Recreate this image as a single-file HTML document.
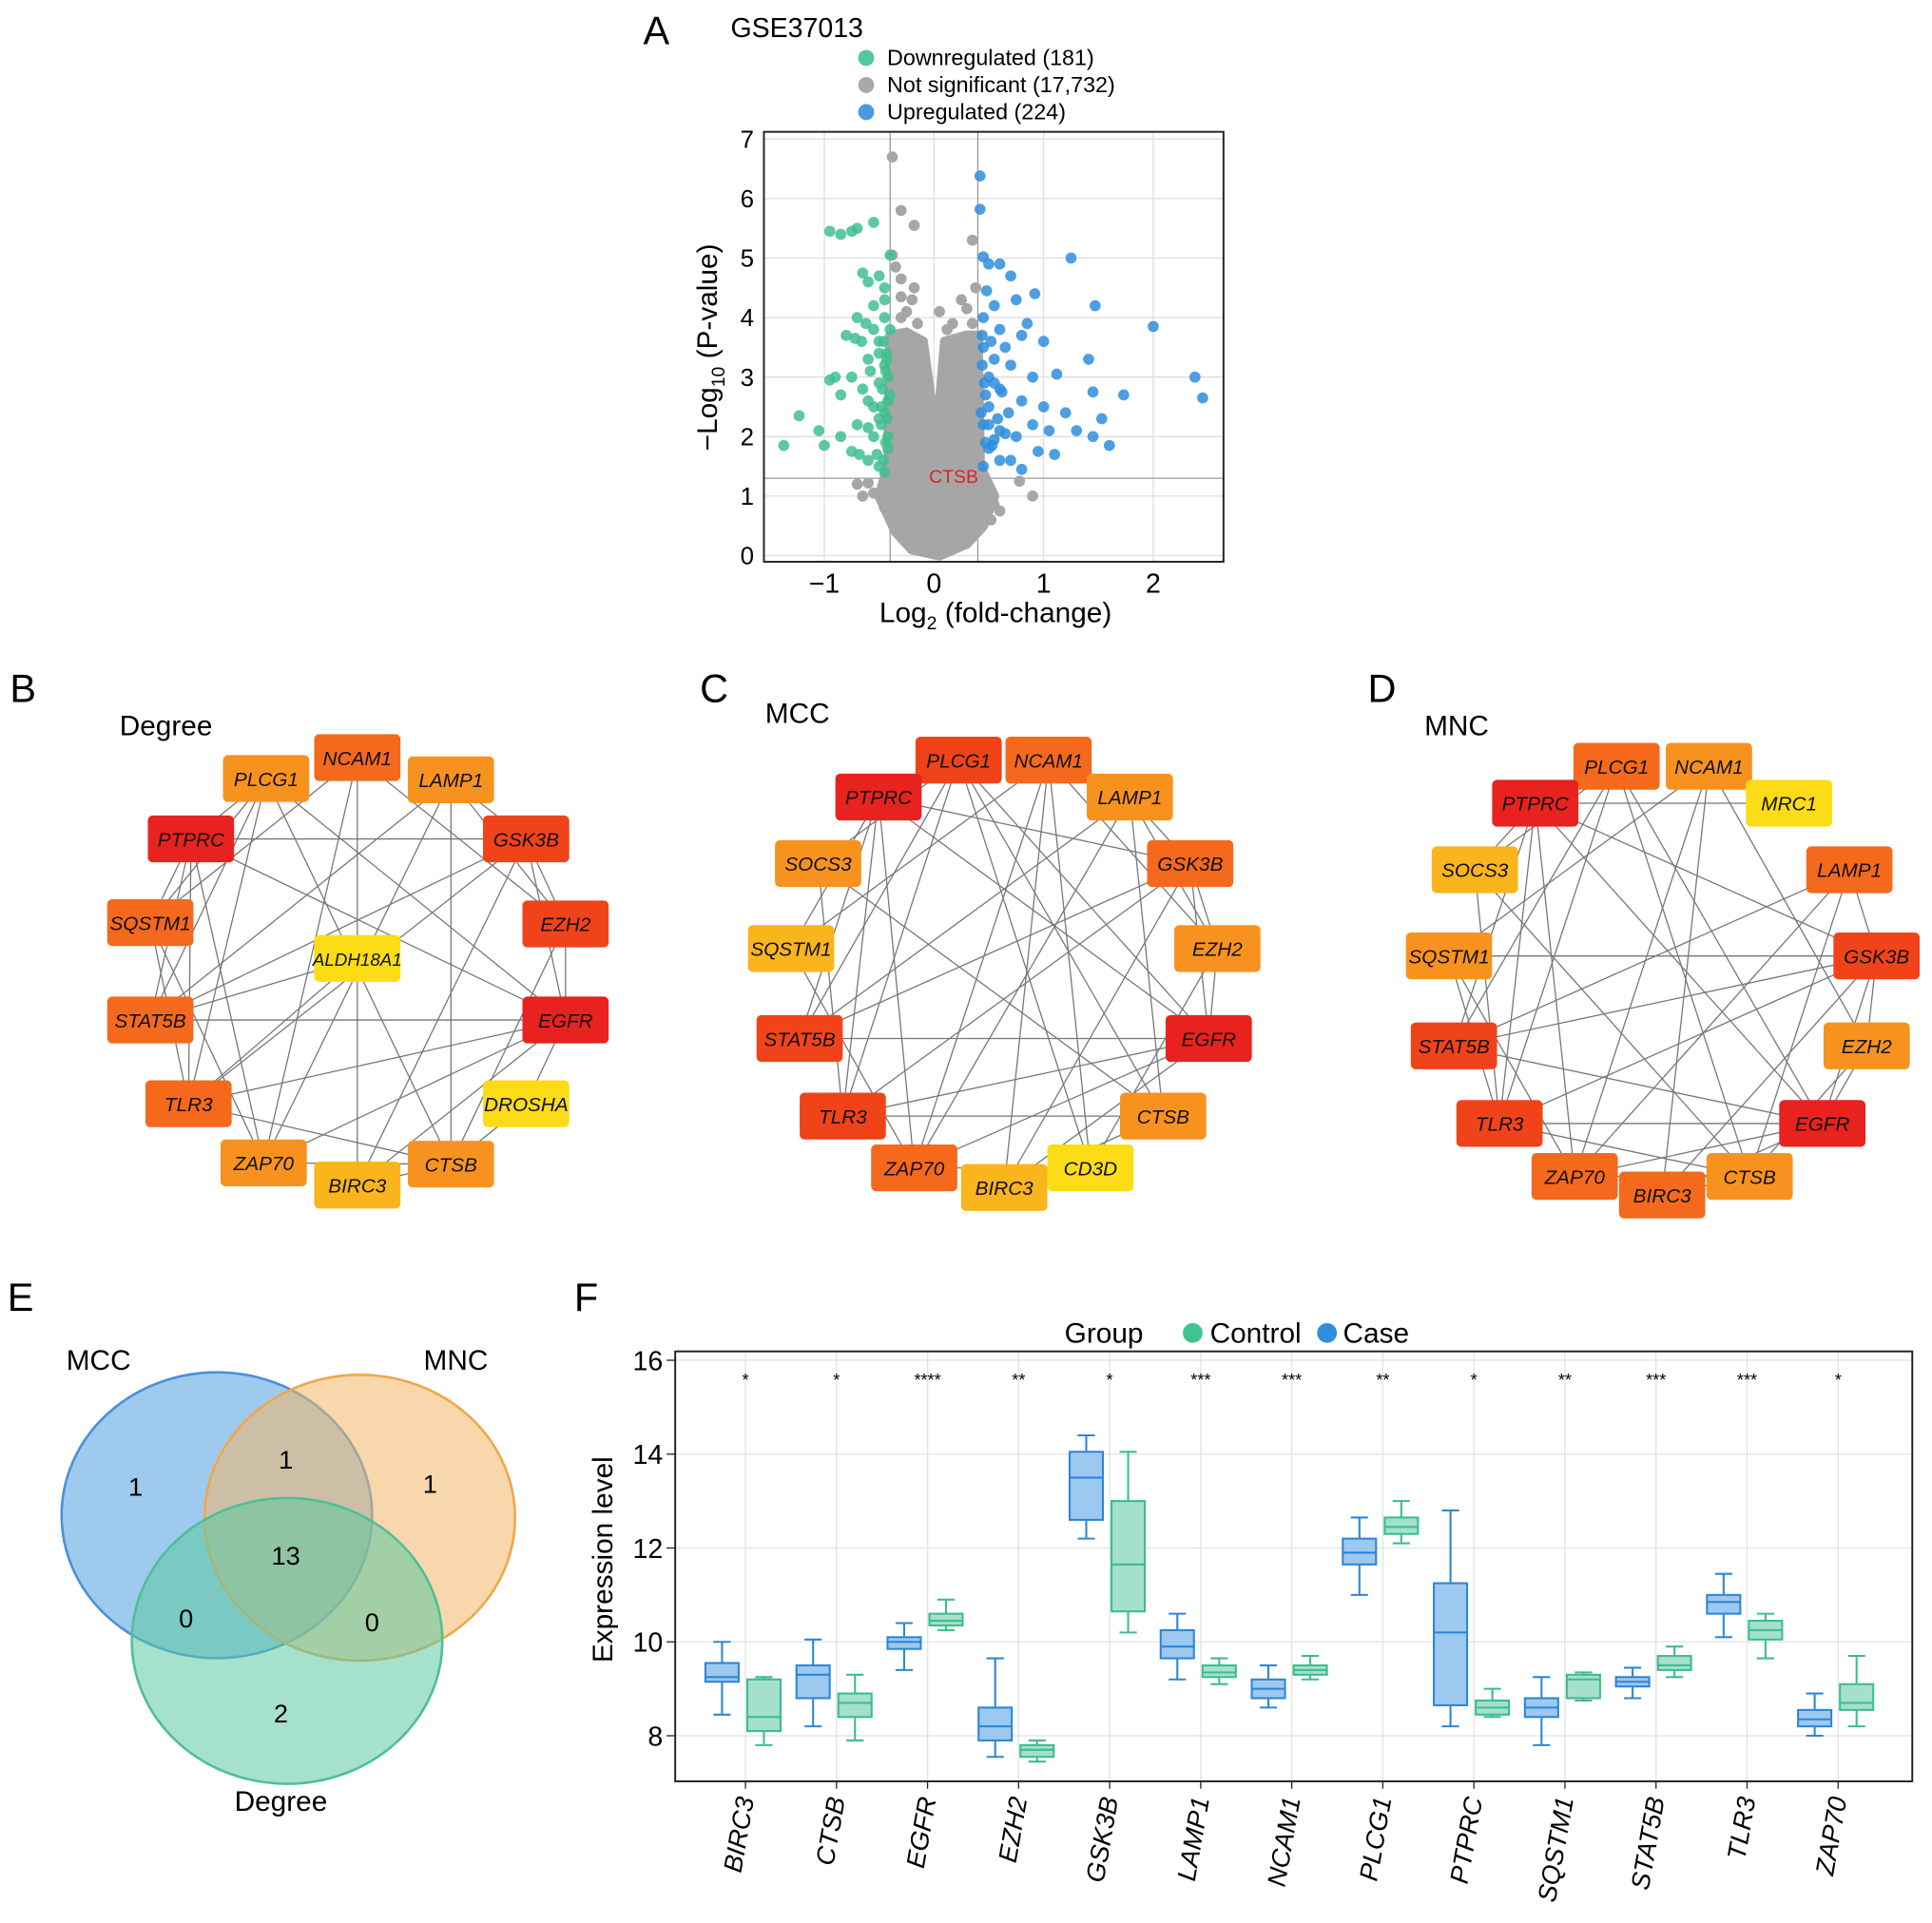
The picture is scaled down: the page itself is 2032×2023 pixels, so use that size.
<!DOCTYPE html>
<html><head><meta charset="utf-8"><style>
html,body{margin:0;padding:0;background:#fff}
svg{display:block;font-family:"Liberation Sans",Arial,sans-serif}
</style></head><body>
<svg id="fig" width="2032" height="2023" viewBox="0 0 1568 1561" preserveAspectRatio="none" xmlns="http://www.w3.org/2000/svg">
<g id="pa"></g>
<g id="pb"></g>
<g id="pc"></g>
<g id="pd"></g>
<g id="pe"></g>
<g id="pf"></g>
</svg>
<script>
// ---------- Volcano data ----------
const downX=[-0.95,-0.85,-0.75,-0.7,-0.55,-0.65,-0.6,-0.5,-0.45,-0.4,-0.55,-0.45,-0.7,-0.8,-0.5,-0.4,-0.6,-0.45,-0.75,-0.9,-0.5,-0.4,-0.6,-0.45,-0.7,-0.85,-1.0,-1.37,-1.23,-0.95,-0.55,-0.42,-0.6,-0.5,-0.45,-0.75,-0.65,-0.5,-0.42,-0.48,-0.42,-0.55,-0.45,-0.62,-0.85,-1.05,-0.42,-0.48,-0.44,-0.52,-0.43,-0.46,-0.43,-0.47,-0.44,-0.5,-0.55,-0.43,-0.46,-0.58,-0.66,-0.72,-0.6,-0.68];
const downY=[5.45,5.4,5.45,5.5,5.6,4.75,4.6,4.7,4.5,5.05,4.2,4.0,4.0,3.7,3.6,3.8,3.3,3.2,3.0,3.0,2.9,2.7,2.6,2.4,2.2,2.0,1.85,1.85,2.35,2.95,2.0,1.8,1.6,1.5,1.4,1.75,2.8,3.4,3.0,2.2,2.0,3.8,4.3,3.9,2.7,2.1,2.6,2.5,3.1,1.7,3.4,3.6,2.3,2.8,1.9,2.3,2.5,3.3,1.6,3.1,3.6,3.65,2.15,1.7];
const upX=[0.42,0.42,0.45,0.5,0.6,0.7,0.75,0.92,1.25,1.47,2.0,0.85,0.55,0.45,0.6,0.8,1.0,0.45,0.55,0.7,0.9,1.12,1.41,1.45,1.73,2.38,2.45,0.5,0.6,0.8,1.0,1.2,1.53,1.45,1.6,1.3,0.5,0.45,0.6,0.75,0.9,1.05,0.5,0.6,0.7,0.45,0.55,0.65,0.48,0.95,1.1,0.8,0.58,0.47,0.52,0.65,0.44,0.46,0.43,0.5,0.47,0.55,0.44,0.62,0.68,0.53];
const upY=[6.38,5.82,5.02,4.9,4.9,4.7,4.3,4.4,5.0,4.2,3.85,3.9,4.2,4.0,3.8,3.7,3.6,3.5,3.3,3.2,3.0,3.05,3.3,2.75,2.7,3.0,2.65,3.0,2.8,2.6,2.5,2.4,2.3,2.0,1.85,2.1,2.5,2.2,2.1,2.0,2.2,2.1,1.8,1.6,1.6,1.5,2.9,3.5,4.45,1.75,1.7,1.45,2.3,2.7,3.6,2.05,3.2,2.9,2.4,2.2,1.9,1.95,3.7,2.75,2.4,1.85];
const grayX=[-0.38,-0.3,-0.18,-0.38,0.35,0.38,-0.35,-0.3,-0.2,0.25,0.3,-0.3,0.05,-0.7,-0.65,-0.6,-0.45,0.55,0.6,0.78,0.9,-0.55,0.52,-0.25,0.17,-0.15,0.12,0.45,0.5,-0.3,0.35,-0.18];
const grayY=[6.7,5.8,5.55,5.05,5.3,4.5,4.85,4.65,4.3,4.3,4.15,4.35,4.1,1.2,1.0,1.22,0.8,0.85,0.75,1.25,1.0,1.05,0.6,4.1,3.9,3.9,3.8,1.3,1.1,4.0,3.9,4.5];
const coreX=[-0.4,-0.25,-0.1,-0.02,0.02,0.05,0.1,0.3,0.4,0.42,0.55,0.45,0.3,0.05,-0.2,-0.35,-0.5,-0.42];
const coreY=[3.7,3.75,3.6,2.5,1.9,2.5,3.6,3.7,3.7,1.5,1.0,0.5,0.2,0,0.1,0.4,1.0,1.5];
const volXTicks=[-1,0,1,2];
const volYTicks=[0,1,2,3,4,5,6,7];

// ---------- Boxplot data ----------
const genes=["BIRC3","CTSB","EGFR","EZH2","GSK3B","LAMP1","NCAM1","PLCG1","PTPRC","SQSTM1","STAT5B","TLR3","ZAP70"];
const caseStats=[[8.45,9.15,9.25,9.55,10.0],[8.2,8.8,9.3,9.5,10.05],[9.4,9.85,10.0,10.1,10.4],[7.55,7.9,8.2,8.6,9.65],[12.2,12.6,13.5,14.05,14.4],[9.2,9.65,9.9,10.25,10.6],[8.6,8.8,9.0,9.2,9.5],[11.0,11.65,11.9,12.2,12.65],[8.2,8.65,10.2,11.25,12.8],[7.8,8.4,8.6,8.8,9.25],[8.8,9.05,9.15,9.25,9.45],[10.1,10.6,10.85,11.0,11.45],[8.0,8.2,8.35,8.55,8.9]];
const ctrlStats=[[7.8,8.1,8.4,9.2,9.25],[7.9,8.4,8.7,8.9,9.3],[10.25,10.35,10.45,10.6,10.9],[7.45,7.55,7.7,7.8,7.9],[10.2,10.65,11.65,13.0,14.05],[9.1,9.25,9.35,9.5,9.65],[9.2,9.3,9.4,9.5,9.7],[12.1,12.3,12.45,12.65,13.0],[8.4,8.45,8.6,8.75,9.0],[8.75,8.8,9.2,9.3,9.35],[9.25,9.4,9.5,9.7,9.9],[9.65,10.05,10.25,10.45,10.6],[8.2,8.55,8.7,9.1,9.7]];
const sigLabels=["*","*","****","**","*","***","***","**","*","**","***","***","*"];
const boxYTicks=[8,10,12,14,16];

// ---------- Network data ----------
const C_RED="#e8221e",C_RO="#f0431a",C_OR="#f5691c",C_O="#f8921f",C_G="#fab41c",C_Y="#fbdc17";
const netB=[["PLCG1",216,632,C_O],["NCAM1",290,615,C_OR],["LAMP1",366,633,C_O],["PTPRC",155,681,C_RED],["GSK3B",427,681,C_RO],["SQSTM1",122,749,C_OR],["EZH2",459,750,C_RO],["ALDH18A1",290,778,C_Y],["STAT5B",122,828,C_OR],["EGFR",459,828,C_RED],["TLR3",153,896,C_OR],["DROSHA",427,896,C_Y],["ZAP70",214,944,C_O],["BIRC3",290,962,C_G],["CTSB",366,945,C_O]];
const netC=[["PLCG1",778,617,C_RO],["NCAM1",851,617,C_OR],["LAMP1",917,647,C_O],["PTPRC",713,647,C_RED],["GSK3B",966,701,C_OR],["SOCS3",664,701,C_O],["EZH2",988,770,C_O],["SQSTM1",642,770,C_G],["STAT5B",649,843,C_RO],["EGFR",981,843,C_RED],["TLR3",684,906,C_RO],["CTSB",944,906,C_O],["ZAP70",742,948,C_OR],["BIRC3",815,964,C_G],["CD3D",885,948,C_Y]];
const netD=[["PLCG1",1312,622,C_OR],["NCAM1",1387,622,C_O],["MRC1",1452,652,C_Y],["PTPRC",1246,652,C_RED],["LAMP1",1501,706,C_OR],["SOCS3",1197,706,C_G],["GSK3B",1523,776,C_RO],["SQSTM1",1176,776,C_O],["STAT5B",1180,849,C_RO],["EZH2",1515,849,C_O],["TLR3",1217,912,C_RO],["EGFR",1479,912,C_RED],["ZAP70",1278,955,C_OR],["BIRC3",1349,970,C_OR],["CTSB",1420,955,C_O]];
const edgesB=[[0,3],[0,5],[0,8],[0,10],[0,9],[0,14],[1,12],[1,6],[1,5],[1,13],[2,4],[2,6],[2,8],[2,12],[3,5],[3,8],[3,10],[3,12],[3,9],[3,4],[4,6],[4,9],[4,10],[4,13],[5,10],[6,9],[6,14],[7,8],[8,9],[9,12],[9,13],[9,10],[10,14],[12,14],[13,14],[14,2],[5,12],[8,4],[7,10],[11,14],[11,9]];
const edgesC=[[0,3],[0,5],[0,8],[0,10],[0,9],[0,14],[1,12],[1,6],[1,7],[1,13],[2,4],[2,6],[2,8],[2,12],[3,7],[3,8],[3,10],[3,12],[3,9],[3,4],[4,6],[4,9],[4,10],[4,13],[5,10],[6,9],[6,14],[5,11],[8,9],[9,12],[9,13],[9,10],[10,11],[12,14],[13,11],[11,2],[7,12],[8,4],[0,11],[1,14]];
const edgesD=[[0,3],[0,5],[0,8],[0,10],[0,11],[0,14],[1,12],[1,9],[1,7],[1,13],[2,3],[4,6],[4,8],[4,12],[3,5],[3,8],[3,10],[3,12],[3,11],[3,6],[6,9],[6,11],[6,10],[6,13],[5,10],[9,11],[9,14],[7,6],[8,11],[11,12],[11,13],[10,11],[10,14],[12,14],[13,14],[14,4],[7,12],[8,6],[5,14],[7,10]];

const NS="http://www.w3.org/2000/svg";
function el(tag,attrs,parent,txt){const e=document.createElementNS(NS,tag);for(const k in attrs)e.setAttribute(k,attrs[k]);if(txt!==undefined)e.textContent=txt;parent.appendChild(e);return e;}

// ================= Panel A =================
(function(){
const g=document.getElementById('pa');
const X=v=>758+89*v, Y=v=>451-48.3*v;
let t;
t=el('text',{x:522,y:36,'font-size':32},g,'A');


t=el('text',{x:593,y:30,'font-size':22},g,'GSE37013');


const leg=[["Downregulated (181)","#52c79c",47],["Not significant (17,732)","#a9a9a9",69],["Upregulated (224)","#4a9ae0",91]];
leg.forEach(l=>{
 const c=el('circle',{cx:703,cy:l[2],r:6.5,fill:l[1]},g);
 
 
 const tx=el('text',{x:720,y:l[2]+6,'font-size':18},g,l[0]);
 
 
});
volXTicks.forEach(v=>{const l=el('line',{x1:X(v),x2:X(v),y1:107,y2:456,stroke:'#ddd','stroke-width':1},g);});
volYTicks.forEach(v=>{const l=el('line',{x1:620,x2:993,y1:Y(v),y2:Y(v),stroke:'#ddd','stroke-width':1},g);});
[-0.4,0.4].forEach(v=>{const l=el('line',{x1:X(v),x2:X(v),y1:107,y2:456,stroke:'#999','stroke-width':1},g);});
t=el('line',{x1:620,x2:993,y1:Y(1.3),y2:Y(1.3),stroke:'#999','stroke-width':1},g);


const pts=coreX.map((x,i)=>X(x)+','+Y(coreY[i])).join(' ');
t=el('polygon',{points:pts,fill:'#a6a6a6',stroke:'#a6a6a6','stroke-width':8,'stroke-linejoin':'round'},g);


grayX.forEach((x,i)=>{const c=el('circle',{cx:X(x),cy:Y(grayY[i]),r:4.5,fill:'#a6a6a6'},g);});
downX.forEach((x,i)=>{const c=el('circle',{cx:X(x),cy:Y(downY[i]),r:4.5,fill:'#3fbf8f','fill-opacity':0.85},g);});
upX.forEach((x,i)=>{const c=el('circle',{cx:X(x),cy:Y(upY[i]),r:4.5,fill:'#2f8ddd','fill-opacity':0.85},g);});
t=el('text',{x:754,y:392,'font-size':15,fill:'#e0202a'},g,'CTSB');


t=el('rect',{x:620,y:107,width:373,height:349,fill:'none',stroke:'#222','stroke-width':1.5},g);


volXTicks.forEach(v=>{const tx=el('text',{x:X(v),y:481,'font-size':22,'text-anchor':'middle'},g,v<0?'\u2212'+(-v):String(v));});
volYTicks.forEach(v=>{const tx=el('text',{x:612,y:Y(v)+7,'font-size':20,'text-anchor':'end'},g,String(v));});
t=el('text',{x:808,y:505,'font-size':23,'text-anchor':'middle'},g);
t.innerHTML='Log<tspan font-size="15" dy="6">2</tspan><tspan dy="-6"> (fold-change)</tspan>';


t=el('text',{x:0,y:0,'font-size':23,'text-anchor':'middle',transform:'translate(582,282) rotate(-90)'},g);
t.innerHTML='\u2212Log<tspan font-size="15" dy="6">10</tspan><tspan dy="-6"> (P-value)</tspan>';


})();

// ================= Networks =================
function drawNet(gid,nodes,edges,label,lx,ly,title,tx,ty){
 const g=document.getElementById(gid);
 let t=el('text',{x:lx,y:ly,'font-size':32},g,label);
 
 
 t=el('text',{x:tx,y:ty,'font-size':23},g,title);
 
 
 edges.forEach(e=>{const a=nodes[e[0]],b=nodes[e[1]];const l=el('line',{x1:a[1],y1:a[2],x2:b[1],y2:b[2],stroke:'#777','stroke-width':1},g);});
 nodes.forEach(n=>{
  const r=el('rect',{x:n[1]-35,y:n[2]-19,width:70,height:38,rx:4,fill:n[3]},g);
  
  
  const s=el('text',{x:n[1],y:n[2]+6,'font-size':n[0].length>6?14.5:16,'font-style':'italic','text-anchor':'middle',fill:'#111'},g,n[0]);
  
  
 });
}
drawNet('pb',netB,edgesB,'B',8,570,'Degree',97,597);
drawNet('pc',netC,edgesC,'C',568,570,'MCC',621,587);
drawNet('pd',netD,edgesD,'D',1110,570,'MNC',1156,597);

// ================= Venn =================
(function(){
 const g=document.getElementById('pe');
 let t=el('text',{x:6,y:1064,'font-size':32},g,'E');
 
 
 const circ=[[176,1230,'#4f9fe0','#4a90d9','mcc-set'],[292,1232,'#f2b66a','#efa74a','mnc-set'],[233,1332,'#5cc9a0','#4cc096','degree-set']];
 circ.forEach(c=>{const e=el('ellipse',{cx:c[0],cy:c[1],rx:126,ry:116,fill:c[2],'fill-opacity':0.55,stroke:c[3],'stroke-width':2},g);});
 const labs=[['MCC',80,1112,'mcc-label'],['MNC',370,1112,'mnc-label'],['Degree',228,1470,'degree-label']];
 labs.forEach(l=>{const s=el('text',{x:l[1],y:l[2],'font-size':23,'text-anchor':'middle'},g,l[0]);});
 const nums=[['1',110,1214],['1',232,1192],['1',349,1212],['13',232,1270],['0',151,1321],['0',302,1324],['2',228,1398]];
 nums.forEach(n=>{const s=el('text',{x:n[1],y:n[2],'font-size':21,'text-anchor':'middle'},g,n[0]);});
})();

// ================= Boxplot =================
(function(){
 const g=document.getElementById('pf');
 const x0=548,x1=1552,yTop=1097,yBot=1446;
 const Y=v=>1409-(v-8)*38.1;
 const CX=i=>605+i*73.9;
 let t=el('text',{x:466,y:1064,'font-size':32},g,'F');
 
 
 t=el('text',{x:864,y:1090,'font-size':23},g,'Group');
 
 
 [['Control','#3fc38f',968,982],['Case','#2e8fdc',1077,1090]].forEach(l=>{
  const c=el('circle',{cx:l[2],cy:1082,r:8,fill:l[1]},g);
  
  
  const s=el('text',{x:l[3],y:1090,'font-size':23},g,l[0]);
  
  
 });
 boxYTicks.forEach(v=>{const l=el('line',{x1:x0,x2:x1,y1:Y(v),y2:Y(v),stroke:'#e2e2e2'},g);});
 genes.forEach((n,i)=>{const l=el('line',{x1:CX(i),x2:CX(i),y1:yTop,y2:yBot,stroke:'#e2e2e2'},g);});
 function box(s,cx,stroke,fill,name){
  const w=27,h=w/2,cap=7;
  const ln=(a,b,c,d)=>{const l=el('line',{x1:a,y1:b,x2:c,y2:d,stroke:stroke,'stroke-width':1.6},g);};
  ln(cx,Y(s[0]),cx,Y(s[1]));ln(cx,Y(s[3]),cx,Y(s[4]));
  ln(cx-cap,Y(s[0]),cx+cap,Y(s[0]));ln(cx-cap,Y(s[4]),cx+cap,Y(s[4]));
  const r=el('rect',{x:cx-h,y:Y(s[3]),width:w,height:Y(s[1])-Y(s[3]),fill:fill,stroke:stroke,'stroke-width':1.6},g);
  
  
  const m=el('line',{x1:cx-h,x2:cx+h,y1:Y(s[2]),y2:Y(s[2]),stroke:stroke,'stroke-width':1.6},g);
  
  
 }
 genes.forEach((n,i)=>{
  box(caseStats[i],CX(i)-19,'#2d86d6','#9dc8ef','case');
  box(ctrlStats[i],CX(i)+15,'#3dbd8c','#a5e0cb','control');
  const s=el('text',{x:CX(i),y:1125,'font-size':14,'text-anchor':'middle'},g,sigLabels[i]);
  
  
  const lab=el('text',{x:0,y:0,'font-size':21,'font-style':'italic','text-anchor':'end',transform:'translate('+(CX(i)+7)+',1460) rotate(-80)'},g,n);
  
  
  const tk=el('line',{x1:CX(i),x2:CX(i),y1:yBot,y2:yBot+6,stroke:'#222'},g);
  
  
 });
 t=el('rect',{x:x0,y:yTop,width:x1-x0,height:yBot-yTop,fill:'none',stroke:'#222','stroke-width':1.5},g);
 
 
 boxYTicks.forEach(v=>{
  const tk=el('line',{x1:x0-7,x2:x0,y1:Y(v),y2:Y(v),stroke:'#222'},g);
  
  
  const s=el('text',{x:x0-10,y:Y(v)+8,'font-size':22,'text-anchor':'end'},g,String(v));
  
  
 });
 t=el('text',{x:0,y:0,'font-size':23,'text-anchor':'middle',transform:'translate(497,1266) rotate(-90)'},g,'Expression level');
 
 
})();
</script>
</body></html>
